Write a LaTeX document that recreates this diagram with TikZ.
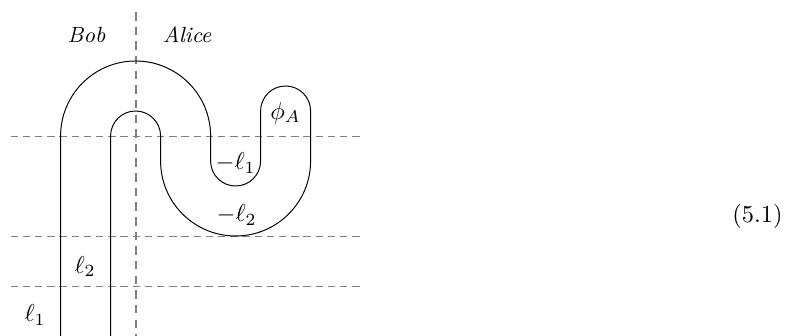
\documentclass[tikz,border=0pt]{standalone}
\usepackage{amsmath}
\tikzset{
  cut/.style={gray, dash pattern=on 3pt off 2pt, line width=0.35pt},
  party/.style={gray, line width=0.8pt, dash pattern=on 3.5pt off 2.5pt},
  who/.style={font=\small\itshape},
}
\begin{document}
\begin{tikzpicture}[x=0.36cm,y=0.36cm]
\useasboundingbox (-5.424,-8) rectangle (25.976,5.44);

\draw[cut] (-5,0) -- (9.1,0);
\draw[cut] (-5,-4) -- (9.1,-4);
\draw[cut] (-5,-6) -- (9.1,-6);
\draw[party] (0,4.96) -- (0,-8);

\node[who] (bob) at (-1.96,4.05) {Bob};
\node[who] (alice) at (2.06,4.05) {Alice};

\draw (-3,-8) -- (-3,0) arc (180:0:3) -- (3,-1) arc (180:360:1) -- (5,1)
  arc (180:0:1) -- (7,-1) arc (0:-180:3) -- (1,0) arc (0:180:1) -- (-1,-8);

\node (phiA) at (6,0.92) {$\phi_A$};
\node (ml1) at (4,-1.08) {$-\ell_1$};
\node (ml2) at (4.04,-3.16) {$-\ell_2$};
\node (l2) at (-2.02,-5.22) {$\ell_2$};
\node (l1) at (-4.02,-7.16) {$\ell_1$};

\node[anchor=east, inner sep=0pt] (eqno) at (25.9,-3.23) {(5.1)};
\end{tikzpicture}
\end{document}
